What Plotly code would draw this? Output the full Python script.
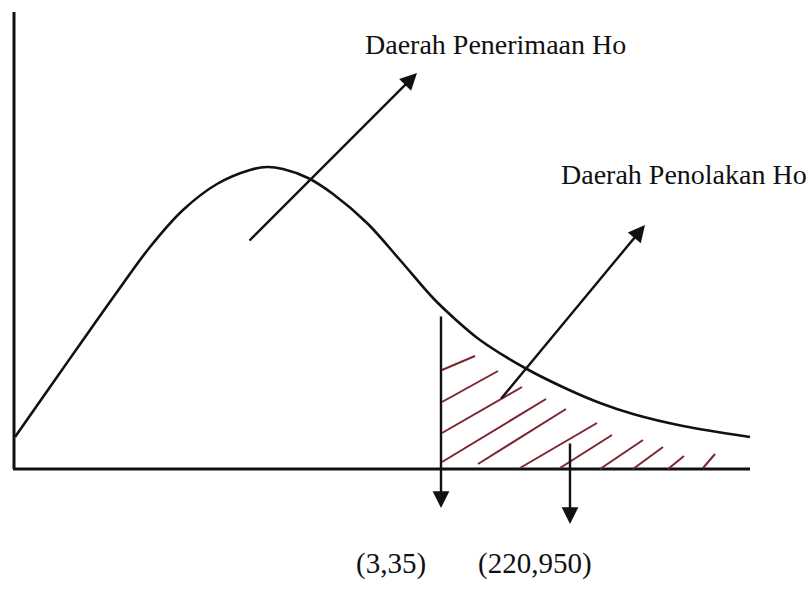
import plotly.graph_objects as go

# Density curve (horizontal position, height above the baseline)
curve_x = [2, 37, 70, 104, 137, 170, 204, 237, 254, 270, 295, 320, 354, 387,
           420, 442, 467, 512, 554, 587, 620, 670, 737]
curve_y = [32, 82, 129, 177, 222, 259, 285, 299, 302, 300, 291, 275, 246, 209,
           171, 150, 129, 101, 80, 66, 55, 43, 32]

# Critical value line and the second marker
critical_x = 428
critical_top = 154
marker_x = 557
marker_top = 27

# Hatching inside the rejection region: (x0, y0, x1, y1)
hatch_segments = [
    (429, 99, 462, 113),
    (429, 67, 485, 98),
    (429, 36, 509, 82),
    (429, 7, 533, 70),
    (465, 5, 553, 60),
    (507, 1, 584, 46),
    (547, 1, 599, 34),
    (587, 0, 630, 29),
    (620, 0, 650, 22),
    (655, 0, 671, 13),
    (690, 1, 702, 15),
]

# Pointer arrows: (tail_x, tail_y, head_x, head_y)
accept_arrow = (235, 227, 404, 396)
reject_arrow = (487, 69, 632, 244)

accept_label = "Daerah Penerimaan Ho"
reject_label = "Daerah Penolakan Ho"
df_labels = ["(3,35)", "(220,950)"]

ink = "#111111"
hatch_color = "#7a2530"

fig = go.Figure()

# axes drawn as lines
fig.add_trace(go.Scatter(x=[1, 1], y=[457, 0], mode="lines",
                         line=dict(color=ink, width=3), hoverinfo="skip"))
fig.add_trace(go.Scatter(x=[0, 737], y=[0, 0], mode="lines",
                         line=dict(color=ink, width=3), hoverinfo="skip"))

# hatching
for x0, y0, x1, y1 in hatch_segments:
    fig.add_trace(go.Scatter(x=[x0, x1], y=[y0, y1], mode="lines",
                             line=dict(color=hatch_color, width=2),
                             hoverinfo="skip"))

# density curve
fig.add_trace(go.Scatter(x=curve_x, y=curve_y, mode="lines",
                         line=dict(color=ink, width=2.6, shape="spline", smoothing=1.0),
                         hoverinfo="skip"))

annotations = []

# downward arrows at the critical value and the marker
for xv, top, tip in [(critical_x, critical_top, -39), (marker_x, marker_top, -55)]:
    annotations.append(dict(x=xv, y=tip, ax=xv, ay=top, xref="x", yref="y",
                            axref="x", ayref="y", showarrow=True, arrowhead=2,
                            arrowsize=1.4, arrowwidth=2.4, arrowcolor=ink, text=""))

for tx, ty, hx, hy in [accept_arrow, reject_arrow]:
    annotations.append(dict(x=hx, y=hy, ax=tx, ay=ty, xref="x", yref="y",
                            axref="x", ayref="y", showarrow=True, arrowhead=2,
                            arrowsize=1.4, arrowwidth=2.4, arrowcolor=ink, text=""))

label_font = dict(family="Liberation Serif, Times New Roman, serif", size=28, color=ink)
df_font = dict(family="Liberation Serif, Times New Roman, serif", size=29, color=ink)
annotations.append(dict(x=350, y=425, xref="x", yref="y", text=accept_label,
                        showarrow=False, xanchor="left", yanchor="middle", font=label_font))
annotations.append(dict(x=546, y=295, xref="x", yref="y", text=reject_label,
                        showarrow=False, xanchor="left", yanchor="middle", font=label_font))
annotations.append(dict(x=341, y=-94, xref="x", yref="y", text=df_labels[0],
                        showarrow=False, xanchor="left", yanchor="middle", font=df_font))
annotations.append(dict(x=463, y=-94, xref="x", yref="y", text=df_labels[1],
                        showarrow=False, xanchor="left", yanchor="middle", font=df_font))

fig.update_layout(
    width=811, height=592,
    margin=dict(l=0, r=0, t=0, b=0),
    paper_bgcolor="white", plot_bgcolor="white",
    showlegend=False,
    xaxis=dict(range=[-13, 798], visible=False, fixedrange=True),
    yaxis=dict(range=[-123, 469], visible=False, fixedrange=True),
    annotations=annotations,
)

fig.write_html("out.html")
